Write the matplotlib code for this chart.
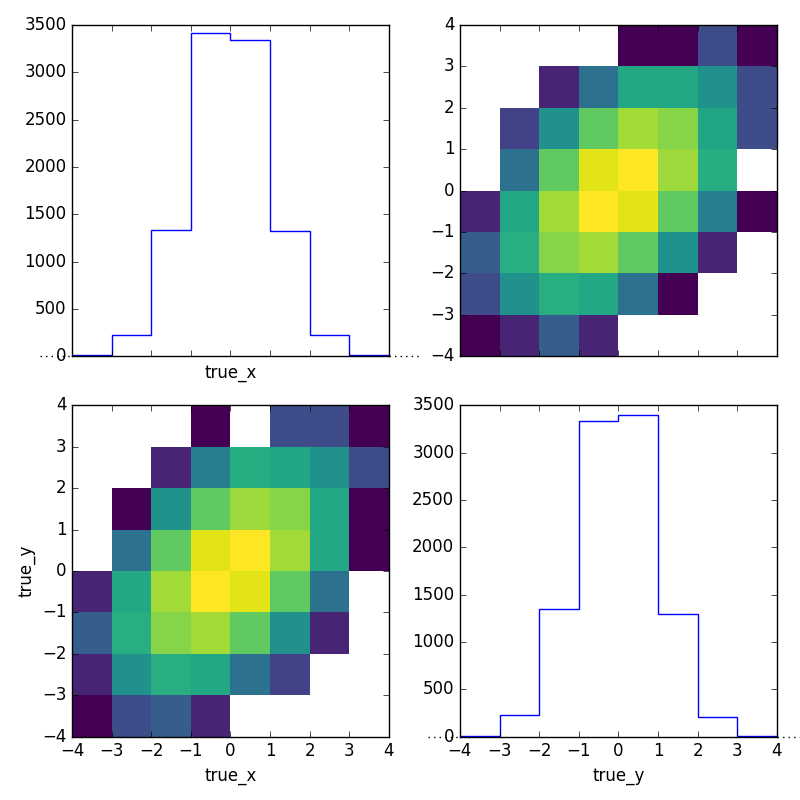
import matplotlib
matplotlib.use("Agg")
from matplotlib import pyplot as plt
from matplotlib.colors import LogNorm
import numpy as np

plt.style.use("classic")

bin_edges = [-4, -3, -2, -1, 0, 1, 2, 3, 4]

# counts per bin
true_x_counts = [10, 225, 1330, 3410, 3340, 1320, 225, 10]
true_y_counts = [10, 235, 1350, 3330, 3400, 1300, 210, 10]

# 2d counts, rows = true_y bins (bottom -> top), cols = true_x bins (left -> right)
xy_counts = [
    [1, 5, 8, 2, 0, 0, 0, 0],
    [2, 35, 85, 70, 14, 4, 0, 0],
    [8, 85, 330, 450, 210, 35, 2, 0],
    [2, 70, 450, 1200, 880, 210, 14, 0],
    [0, 14, 210, 880, 1200, 450, 70, 1],
    [0, 1, 37, 210, 430, 330, 70, 1],
    [0, 0, 2, 20, 80, 65, 35, 5],
    [0, 0, 0, 1, 0, 5, 5, 1],
]

hist_ticks = [0, 500, 1000, 1500, 2000, 2500, 3000, 3500]
pos_ticks = [-4, -3, -2, -1, 0, 1, 2, 3, 4]

edges = np.array(bin_edges, dtype=float)
centers = 0.5 * (edges[:-1] + edges[1:])
H = np.ma.masked_equal(np.array(xy_counts, dtype=float), 0)
norm = LogNorm(vmin=1, vmax=H.max())

fig, axes = plt.subplots(2, 2, figsize=(8, 8), dpi=100, facecolor="white")
fig.subplots_adjust(left=0.09, right=0.971, top=0.969, bottom=0.079,
                    wspace=0.224, hspace=0.148)


def draw_hist(ax, counts):
    ax.hist(centers, bins=edges, weights=counts, histtype="step", color="b")
    # dotted baseline sticking out past the axes
    pad = 0.8
    ax.plot([edges[0] - pad, edges[0]], [0, 0], ":", color="k", lw=1, clip_on=False)
    ax.plot([edges[-1], edges[-1] + pad], [0, 0], ":", color="k", lw=1, clip_on=False)
    ax.set_xlim(edges[0], edges[-1])
    ax.set_ylim(0, 3500)
    ax.set_yticks(hist_ticks)
    ax.set_xticks(pos_ticks)


# top-left: true_x
ax = axes[0, 0]
draw_hist(ax, true_x_counts)
ax.set_xticklabels([])
ax.set_xlabel("true_x", labelpad=1.5)

# top-right: transposed 2d histogram
ax = axes[0, 1]
ax.pcolormesh(edges, edges, H.T, cmap="viridis", norm=norm)
ax.set_xlim(-4, 4)
ax.set_ylim(-4, 4)
ax.set_xticks(pos_ticks)
ax.set_yticks(pos_ticks)
ax.set_xticklabels([])

# bottom-left: true_x vs true_y
ax = axes[1, 0]
ax.pcolormesh(edges, edges, H, cmap="viridis", norm=norm)
ax.set_xlim(-4, 4)
ax.set_ylim(-4, 4)
ax.set_xticks(pos_ticks)
ax.set_yticks(pos_ticks)
ax.set_xlabel("true_x")
ax.set_ylabel("true_y")

# bottom-right: true_y
ax = axes[1, 1]
draw_hist(ax, true_y_counts)
ax.set_xlabel("true_y")

fig.savefig("out.png", dpi=100, facecolor="white")
